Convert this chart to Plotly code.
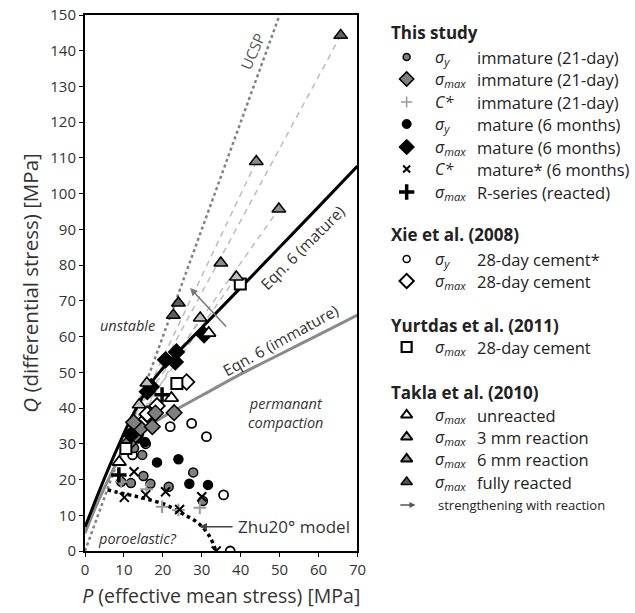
import plotly.graph_objects as go

# ---------------- data ----------------
# This study
imm_sy_P = [9.3, 11.8, 12.6, 14.7, 15.0, 16.8, 21.5, 27.8, 30.3, 13.5]
imm_sy_Q = [19.4, 19.0, 28.8, 26.9, 21.0, 18.8, 18.0, 22.0, 14.0, 33.0]
imm_smax_P = [11.5, 13.0, 14.3, 17.3, 18.1, 22.9, 12.5]
imm_smax_Q = [30.5, 32.5, 34.3, 34.8, 38.6, 38.7, 36.0]
imm_C_P = [9.3, 15.8, 19.8, 29.5, 24.0]
imm_C_Q = [19.4, 17.3, 12.4, 12.1, 11.5]
mat_sy_P = [13.8, 15.4, 18.5, 24.0, 26.8, 31.6]
mat_sy_Q = [31.5, 30.5, 24.8, 25.7, 18.8, 18.5]
mat_smax_P = [11.8, 16.0, 17.0, 20.7, 23.2, 23.5, 30.6]
mat_smax_Q = [32.5, 44.6, 46.0, 53.5, 52.9, 55.7, 60.5]
mat_C_P = [10.1, 12.6, 15.6, 20.7, 24.3, 30.0, 33.7]
mat_C_Q = [15.0, 22.2, 15.7, 16.6, 11.6, 15.2, 0.0]
rser_P = [8.7, 19.8]
rser_Q = [21.3, 43.7]
# Xie et al. (2008)
xie_sy_P = [12.2, 15.6, 21.9, 27.4, 31.2, 35.6, 37.3]
xie_sy_Q = [26.9, 30.0, 34.8, 35.7, 32.0, 15.7, 0.0]
xie_smax_P = [14.5, 16.0, 18.5, 26.1]
xie_smax_Q = [35.5, 38.3, 40.6, 47.3]
# Yurtdas et al. (2011)
yur_P = [10.5, 23.6, 39.9]
yur_Q = [28.7, 46.9, 74.7]
# Takla et al. (2010)
tk_un_P = [8.8, 22.2, 31.8]
tk_un_Q = [24.9, 42.8, 61.0]
tk_3_P = [13.9, 15.9, 29.6, 38.9]
tk_3_Q = [40.9, 47.0, 65.2, 76.7]
tk_6_P = [34.9, 44.0, 49.8]
tk_6_Q = [80.6, 109.0, 95.7]
tk_full_P = [22.7, 24.0, 65.7]
tk_full_Q = [66.0, 69.4, 144.3]

# model curves (read points)
eq6m_P = [0, 3, 6, 9, 12, 15, 18, 22, 26, 30, 40, 50, 60, 70]
eq6m_Q = [6.7, 15, 23, 30.5, 37.5, 43.5, 48.5, 53.5, 58, 62.5, 73.7, 85, 96.3, 107.7]
eq6i_P = [0, 3, 6, 9, 12, 15, 20, 30, 40, 50, 60, 70]
eq6i_Q = [5, 13, 20, 26.5, 31.5, 34, 37.5, 43.5, 49.5, 55, 60.5, 66]
ucsp_P = [0, 50]
ucsp_Q = [0, 150]
zhu_P = [5.8, 8.0, 11.4, 15.7, 20.7, 24.8, 29.1, 32.1, 33.6]
zhu_Q = [17.1, 16.5, 15.7, 14.6, 12.9, 10.6, 7.8, 3.9, 0.0]
# reaction trend lines (dashed)
trend_lines = [
    ([14, 65.7], [40, 144.3]),
    ([13, 44.0], [38, 109.0]),
    ([15, 49.8], [42, 95.7]),
    ([12, 38.9], [35, 76.7]),
    ([12, 29.6], [33, 65.2]),
]

xticks = list(range(0, 71, 10))
yticks = list(range(0, 151, 10))

FONT = "Open Sans"
GREY_MED = "#7f7f7f"
fig = go.Figure()

for (tp, tq) in trend_lines:
    fig.add_trace(go.Scatter(x=tp, y=tq, mode="lines",
                             line=dict(color="#bcbcbc", width=1.5, dash="6px,5px"),
                             hoverinfo="skip"))
fig.add_trace(go.Scatter(x=ucsp_P, y=ucsp_Q, mode="lines",
                         line=dict(color="#808080", width=2.5, dash="dot")))
fig.add_trace(go.Scatter(x=eq6i_P, y=eq6i_Q, mode="lines", line_shape="spline",
                         line=dict(color="#8a8a8a", width=3)))
fig.add_trace(go.Scatter(x=eq6m_P, y=eq6m_Q, mode="lines", line_shape="spline",
                         line=dict(color="black", width=3)))
fig.add_trace(go.Scatter(x=zhu_P, y=zhu_Q, mode="lines", line_shape="spline",
                         line=dict(color="black", width=3.5, dash="dot")))

def pts(P, Q, symbol, size, fill, lc="black", lw=1.5):
    fig.add_trace(go.Scatter(x=P, y=Q, mode="markers",
                             marker=dict(symbol=symbol, size=size, color=fill,
                                         line=dict(color=lc, width=lw))))

pts(xie_sy_P, xie_sy_Q, "circle", 9, "white", lw=1.8)
pts(imm_sy_P, imm_sy_Q, "circle", 9, GREY_MED)
pts(mat_sy_P, mat_sy_Q, "circle", 9, "black")
pts(xie_smax_P, xie_smax_Q, "diamond", 12, "white", lw=1.8)
pts(imm_smax_P, imm_smax_Q, "diamond", 12, GREY_MED)
pts(mat_smax_P, mat_smax_Q, "diamond", 12, "black")
pts(yur_P, yur_Q, "square", 11, "white", lw=2)
pts(tk_un_P, tk_un_Q, "triangle-up", 12, "white", lw=1.8)
pts(tk_3_P, tk_3_Q, "triangle-up", 12, "#bdbdbd")
pts(tk_6_P, tk_6_Q, "triangle-up", 12, "#8c8c8c")
pts(tk_full_P, tk_full_Q, "triangle-up", 12, "#5f5f5f")
pts(imm_C_P, imm_C_Q, "cross-thin", 9, "#9a9a9a", lc="#9a9a9a", lw=2)
pts(mat_C_P, mat_C_Q, "x-thin", 9, "black", lc="black", lw=2)
pts(rser_P, rser_Q, "cross-thin", 11, "black", lc="black", lw=3.5)

# ---------------- axes ----------------
W, H = 635, 613
L, R, T, B = 85, 0, 15, 62
plotw = W - L - R
main_right = 277 / plotw
fig.update_layout(
    width=W, height=H, margin=dict(l=L, r=R, t=T, b=B),
    paper_bgcolor="white", plot_bgcolor="white", showlegend=False,
    font=dict(family=FONT, color="#333333", size=14),
    xaxis=dict(domain=[0, main_right], range=[0, 70], tickvals=xticks,
               showgrid=False, zeroline=False, showline=True, mirror=True,
               linecolor="black", linewidth=2, ticks="outside", ticklen=4,
               tickcolor="black", tickfont=dict(size=15, color="#333"),
               title=dict(text="<i>P</i> (effective mean stress) [MPa]",
                          font=dict(size=19.5, color="#333"), standoff=11)),
    yaxis=dict(range=[0, 150], tickvals=yticks, showgrid=False, zeroline=False,
               showline=True, mirror=True, linecolor="black", linewidth=2,
               ticks="outside", ticklen=4, tickcolor="black",
               tickfont=dict(size=15, color="#333"),
               title=dict(text="<i>Q</i> (differential stress) [MPa]",
                          font=dict(size=20.5, color="#333"), standoff=6)),
    xaxis2=dict(domain=[(371 - L) / plotw, 1], range=[371, 635], visible=False,
                anchor="y2", fixedrange=True),
    yaxis2=dict(domain=[0, 1], range=[551, 15], visible=False, anchor="x2",
                fixedrange=True),
)

# ---------------- in-plot text ----------------
def txt(x, y, s, size=15, angle=0, italic=False, color="#333333", **kw):
    if italic:
        s = "<i>" + s + "</i>"
    fig.add_annotation(x=x, y=y, xref="x", yref="y", text=s, showarrow=False,
                       textangle=angle, font=dict(family=FONT, size=size, color=color), **kw)

txt(43.0, 140.0, "UCSP", size=15, angle=-66, color="#555555")
txt(56.0, 85.0, "Eqn. 6 (mature)", size=15.5, angle=-45)
txt(50.3, 59.0, "Eqn. 6 (immature)", size=15.5, angle=-29)
txt(10.8, 63, "unstable", size=14.5, italic=True)
txt(51.5, 38.5, "permanant<br>compaction", size=14.5, italic=True)
txt(13.5, 3.5, "poroelastic?", size=14.5, italic=True)
fig.add_annotation(x=29.4, y=6.8, ax=38.3, ay=6.8, xref="x", yref="y", axref="x", ayref="y",
                   showarrow=True, arrowhead=2, arrowsize=1, arrowwidth=1.5,
                   arrowcolor="#444", text="")
txt(38.8, 6.8, "Zhu20° model", size=17, xanchor="left")
fig.add_annotation(x=27.0, y=73.6, ax=36.6, ay=62.4, xref="x", yref="y", axref="x", ayref="y",
                   showarrow=True, arrowhead=2, arrowsize=1, arrowwidth=1.5,
                   arrowcolor="#777", text="")

# ---------------- legend (right panel) ----------------
def ltxt(x, y, s, size=15, bold=False, xanchor="left"):
    if bold:
        s = "<b>" + s + "</b>"
    fig.add_annotation(x=x, y=y, xref="x2", yref="y2", text=s, showarrow=False,
                       xanchor=xanchor, font=dict(family=FONT, size=size, color="#222"))

SY = "<i>σ<sub>y</sub></i>"
SM = "<i>σ<sub>max</sub></i>"
CS = "<i>C*</i>"
MX, SX, DX = 412, 439, 481
rows = [
    ("head", 32, "This study"),
    ("row", 57, "circle", 7, GREY_MED, "black", 1.5, SY, "immature (21-day)"),
    ("row", 79, "diamond", 11, GREY_MED, "black", 1.5, SM, "immature (21-day)"),
    ("row", 102, "cross-thin", 8, "#999", "#999", 1.5, CS, "immature (21-day)"),
    ("row", 124, "circle", 9, "black", "black", 1, SY, "mature (6 months)"),
    ("row", 147, "diamond", 12, "black", "black", 1, SM, "mature (6 months)"),
    ("row", 169, "x-thin", 7, "black", "black", 2, CS, "mature* (6 months)"),
    ("row", 192, "cross-thin", 11, "black", "black", 3.5, SM, "R-series (reacted)"),
    ("head", 234, "Xie et al. (2008)"),
    ("row", 259, "circle", 7, "white", "black", 1.5, SY, "28-day cement*"),
    ("row", 281, "diamond", 11, "white", "black", 2, SM, "28-day cement"),
    ("head", 325, "Yurtdas et al. (2011)"),
    ("row", 347, "square", 10, "white", "black", 2.2, SM, "28-day cement"),
    ("head", 392, "Takla et al. (2010)"),
    ("row", 415, "triangle-up", 10, "white", "black", 2, SM, "unreacted"),
    ("row", 437, "triangle-up", 10, "#bdbdbd", "black", 2, SM, "3 mm reaction"),
    ("row", 459, "triangle-up", 10, "#8c8c8c", "black", 2, SM, "6 mm reaction"),
    ("row", 482, "triangle-up", 10, "#555555", "black", 1.5, SM, "fully reacted"),
]
for r in rows:
    if r[0] == "head":
        ltxt(394, r[1], r[2], size=17, bold=True)
    else:
        _, y, sym, sz, fc, lc, lw, s1, s2 = r
        fig.add_trace(go.Scatter(x=[MX], y=[y], xaxis="x2", yaxis="y2", mode="markers",
                                 marker=dict(symbol=sym, size=sz, color=fc,
                                             line=dict(color=lc, width=lw)),
                                 hoverinfo="skip"))
        ltxt(SX, y, s1, size=16)
        ltxt(DX, y, s2, size=16.5)
fig.add_annotation(x=421, y=505, ax=404, ay=505, xref="x2", yref="y2", axref="x2", ayref="y2",
                   showarrow=True, arrowhead=2, arrowsize=0.8, arrowwidth=1.5,
                   arrowcolor="#555", text="")
ltxt(442, 505, "strengthening with reaction", size=13)

fig.write_html("out.html")
